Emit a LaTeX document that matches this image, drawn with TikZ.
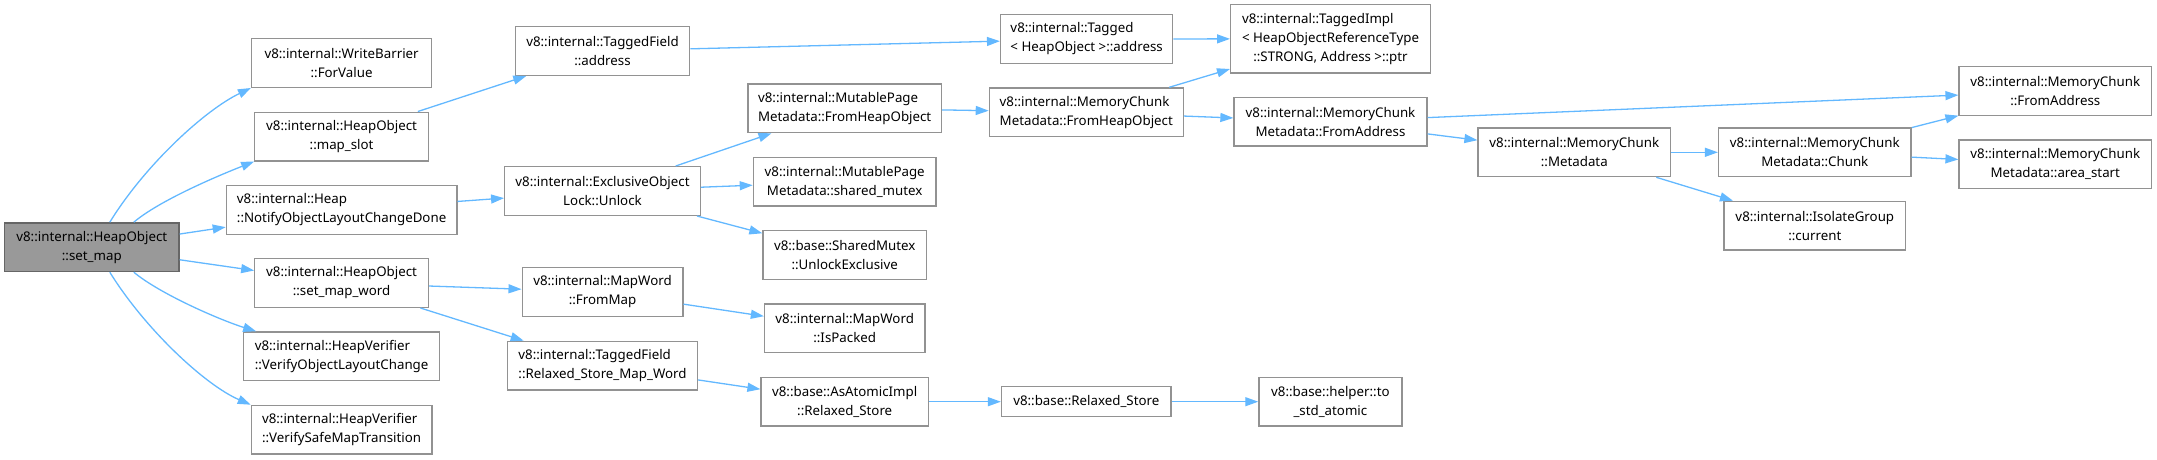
\documentclass[tikz,border=0pt]{standalone}
\usepackage{fontspec}
\setmainfont{Noto Sans}
\usepackage{xcolor}
\usetikzlibrary{arrows.meta}

\definecolor{callblue}{HTML}{63B8FF}
\definecolor{boxgray}{HTML}{929292}
\definecolor{selffill}{HTML}{999999}
\definecolor{selfedge}{HTML}{666666}

\begin{document}
\begin{tikzpicture}[
  x=1pt, y=-1pt,
  >={Triangle[length=13pt,width=9pt]},
  font=\fontsize{13.3}{19}\selectfont,
  fnbox/.style={draw=boxgray, line width=1.3pt, fill=white,
                align=center, inner sep=0pt, minimum height=48.7pt},
  lbox/.style={fnbox, align=left},
  selfbox/.style={fnbox, draw=selfedge, fill=selffill},
  call/.style={->, draw=callblue, line width=1.3pt}
]
\useasboundingbox (0,0) rectangle (2157,460);

% Caller
\node[selfbox, minimum width=174.5pt] (sm) at (91.8,247.2) {v8::internal::HeapObject\\::set\_map};

% Direct callees
\node[fnbox, minimum width=180pt]   (wb)  at (341.6,63)    {v8::internal::WriteBarrier\\::ForValue};
\node[fnbox, minimum width=173.6pt] (ms)  at (341.6,136.5) {v8::internal::HeapObject\\::map\_slot};
\node[lbox,  minimum width=230.5pt] (nl)  at (341.6,209.8) {v8::internal::Heap\\::NotifyObjectLayoutChangeDone};
\node[fnbox, minimum width=173.6pt] (smw) at (341.6,283)   {v8::internal::HeapObject\\::set\_map\_word};
\node[lbox,  minimum width=195.6pt] (vl)  at (341.6,356.3) {v8::internal::HeapVerifier\\::VerifyObjectLayoutChange};
\node[lbox,  minimum width=180.5pt] (vs)  at (341.6,429.7) {v8::internal::HeapVerifier\\::VerifySafeMapTransition};

% Third column
\node[fnbox, minimum width=174.5pt] (tfa) at (602.5,51)    {v8::internal::TaggedField\\::address};
\node[fnbox, minimum width=195.6pt] (ul)  at (602.5,191)   {v8::internal::ExclusiveObject\\Lock::Unlock};
\node[fnbox, minimum width=160.7pt] (fm)  at (602.5,292)   {v8::internal::MapWord\\::FromMap};
\node[lbox,  minimum width=189.7pt] (rsm) at (602.5,365.7) {v8::internal::TaggedField\\::Relaxed\_Store\_Map\_Word};

% Fourth column
\node[lbox,  minimum width=193.4pt] (mfh) at (844.7,108.3) {v8::internal::MutablePage\\Metadata::FromHeapObject};
\node[fnbox, minimum width=182.7pt] (mx)  at (844.7,181.7) {v8::internal::MutablePage\\Metadata::shared\_mutex};
\node[fnbox, minimum width=163.4pt] (ue)  at (844.7,255)   {v8::base::SharedMutex\\::UnlockExclusive};
\node[fnbox, minimum width=160.4pt] (ip)  at (844.7,328.3) {v8::internal::MapWord\\::IsPacked};
\node[fnbox, minimum width=167.3pt] (ars) at (844.7,401.7) {v8::base::AsAtomicImpl\\::Relaxed\_Store};

% Fifth column
\node[lbox,  minimum width=172pt]   (tg)  at (1086.6,39)    {v8::internal::Tagged\\< HeapObject >::address};
\node[lbox,  minimum width=193.9pt] (cfh) at (1086.3,112.3) {v8::internal::MemoryChunk\\Metadata::FromHeapObject};
\node[fnbox, minimum width=169.6pt, minimum height=30pt] (brs) at (1086.3,401.7) {v8::base::Relaxed\_Store};

% Sixth column
\node[fnbox, minimum width=199.7pt, minimum height=68.3pt] (ti) at (1330.5,38.8)
  {\rlap{v8::internal::TaggedImpl}\phantom{< HeapObjectReferenceType}\\< HeapObjectReferenceType\\::STRONG, Address >::ptr};
\node[fnbox, minimum width=193pt]   (cfa) at (1330.5,121.7) {v8::internal::MemoryChunk\\Metadata::FromAddress};
\node[fnbox, minimum width=143pt]   (tsa) at (1330.4,401.7) {v8::base::helper::to\\\_std\_atomic};

% Right part
\node[fnbox, minimum width=192.5pt] (md)  at (1574.3,152.3) {v8::internal::MemoryChunk\\::Metadata};
\node[fnbox, minimum width=192.5pt] (ch)  at (1814.8,152.3) {v8::internal::MemoryChunk\\Metadata::Chunk};
\node[fnbox, minimum width=181.5pt] (ig)  at (1814.8,225.7) {v8::internal::IsolateGroup\\::current};
\node[fnbox, minimum width=192.5pt] (mfa) at (2055.3,91)    {v8::internal::MemoryChunk\\::FromAddress};
\node[fnbox, minimum width=192.5pt] (as)  at (2055.3,164.3) {v8::internal::MemoryChunk\\Metadata::area\_start};

% Calls from set_map
\draw[call] ([xshift=18pt]sm.north) .. controls (145,165) and (205,110) .. (wb.south west);
\draw[call] ([xshift=42pt]sm.north) .. controls (160,200) and (220,175) .. (ms.south west);
\draw[call] (sm) -- (nl);
\draw[call] (sm) -- (smw);
\draw[call] ([xshift=42pt]sm.south) .. controls (160,294) and (220,320) .. ([xshift=13pt]vl.north west);
\draw[call] ([xshift=18pt]sm.south) .. controls (145,329) and (205,385) .. (vs.north west);

% Second level
\draw[call] (ms) -- (tfa);
\draw[call] (nl) -- (ul);
\draw[call] (smw) -- (fm);
\draw[call] (smw) -- (rsm);

% Third level
\draw[call] (tfa) -- (tg);
\draw[call] (ul) -- (mfh);
\draw[call] (ul) -- (mx);
\draw[call] (ul) -- (ue);
\draw[call] (fm) -- (ip);
\draw[call] (rsm) -- (ars);
\draw[call] (ars) -- (brs);
\draw[call] (brs) -- (tsa);

% Tagged and MemoryChunk chain
\draw[call] (tg) -- (ti);
\draw[call] (mfh) -- (cfh);
\draw[call] (cfh) -- (ti);
\draw[call] (cfh) -- (cfa);
\draw[call] (cfa) -- (mfa);
\draw[call] (cfa) -- (md);
\draw[call] (md) -- (ch);
\draw[call] (md) -- (ig);
\draw[call] (ch) -- (mfa);
\draw[call] (ch) -- (as);

\end{tikzpicture}
\end{document}
